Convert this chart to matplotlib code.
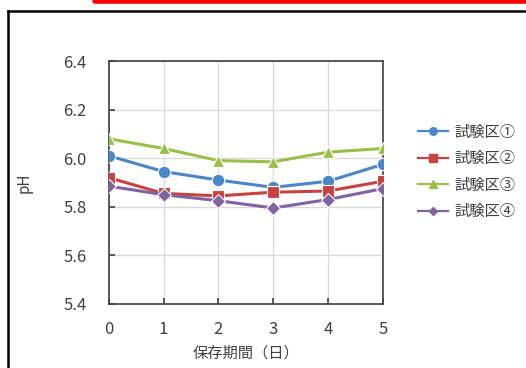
import numpy as np
import matplotlib
matplotlib.use("Agg")
import matplotlib.pyplot as plt
from matplotlib.lines import Line2D

plt.rcParams['font.family'] = ['Noto Sans CJK JP', 'DejaVu Sans']

# 保存期間（日）と各試験区の pH
days = [0, 1, 2, 3, 4, 5]
ph_1 = [6.01, 5.945, 5.91, 5.88, 5.905, 5.975]
ph_2 = [5.92, 5.855, 5.845, 5.86, 5.865, 5.905]
ph_3 = [6.08, 6.04, 5.99, 5.985, 6.025, 6.04]
ph_4 = [5.885, 5.85, 5.825, 5.795, 5.83, 5.875]
names = ['試験区①', '試験区②', '試験区③', '試験区④']

colors = ['#4A86C8', '#C8433F', '#9BC04A', '#8064A2']
markers = ['o', 's', '^', 'D']
msizes = [9, 9, 9, 7]
series = [ph_1, ph_2, ph_3, ph_4]
tcol = '#404040'

W, H = 526, 368
fig = plt.figure(figsize=(W / 100, H / 100), dpi=100)
ax = fig.add_axes([108.7 / W, 1 - 304 / H, 274.3 / W, 243 / H])

for y, c, m, ms in zip(series, colors, markers, msizes):
    ax.plot(days, y, color=c, lw=2.2, marker=m, ms=ms,
            mec='white', mew=0.8, zorder=3)

ax.set_xlim(0, 5)
ax.set_ylim(5.4, 6.4)
ax.set_xticks(days)
ax.set_yticks(np.arange(5.4, 6.41, 0.2))
ax.set_yticklabels(['5.4', '5.6', '5.8', '6.0', '6.2', '6.4'])
ax.grid(True, color='#d9d9d9', lw=0.9)
ax.set_axisbelow(True)
for s in ax.spines.values():
    s.set_color('#404040')
    s.set_linewidth(1.2)
ax.tick_params(direction='in', length=4, width=1.2, colors='#404040',
               labelcolor=tcol, labelsize=12)
ax.tick_params(axis='y', pad=16)
ax.tick_params(axis='x', pad=12)
ax.set_xlabel('保存期間（日）', fontsize=11, color=tcol, labelpad=5)
ax.set_ylabel('pH', fontsize=11, color=tcol, labelpad=22)

handles = [Line2D([], [], color=c, marker=m, ms=ms * 0.6, lw=1.6, mec=c)
           for c, m, ms in zip(colors, markers, msizes)]
fig.legend(handles, names, loc='center left',
           bbox_to_anchor=(404 / W, 1 - 172 / H), frameon=False,
           fontsize=11, labelcolor=tcol, labelspacing=0.62,
           handlelength=2.0, handletextpad=0.4)

# 外枠と上部の赤帯
fig.add_artist(Line2D([8 / W, 8 / W], [0, 1 - 11 / H], color='black', lw=1.8,
                      transform=fig.transFigure))
fig.add_artist(Line2D([8 / W, 1], [1 - 11 / H, 1 - 11 / H], color='black',
                      lw=1.8, transform=fig.transFigure))
fig.add_artist(Line2D([95 / W, 1.02], [1 - 1 / H, 1 - 1 / H], color='#FF0000',
                      lw=4, solid_capstyle='round', transform=fig.transFigure))

fig.savefig('out.png', dpi=100)
